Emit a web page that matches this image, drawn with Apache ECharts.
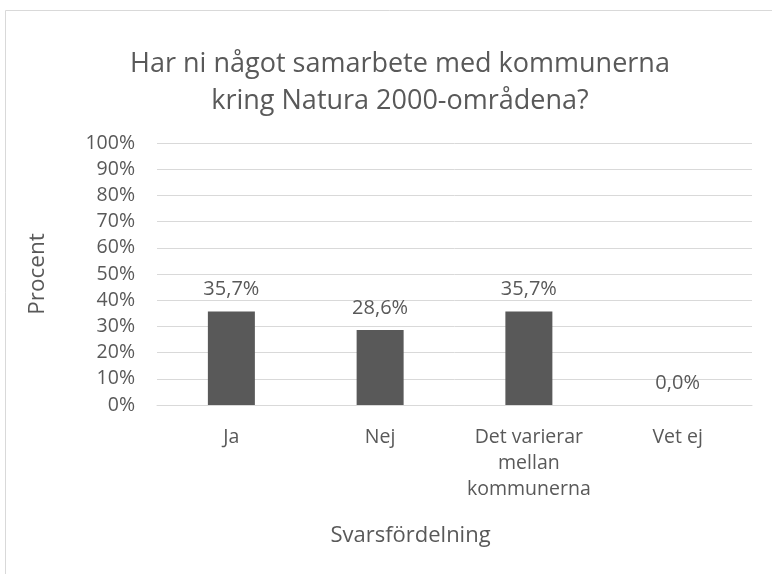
<!DOCTYPE html>
<html>
<head>
<meta charset="utf-8">
<script src="https://cdn.jsdelivr.net/npm/echarts@6/dist/echarts.min.js"></script>
<style>
  html, body { margin: 0; padding: 0; background: #fff; }
  #chart-container { width: 772px; height: 574px; }
</style>
</head>
<body>
<div id="chart-container"></div>
<script>
var categories = ['Ja', 'Nej', 'Det varierar\nmellan\nkommunerna', 'Vet ej'];
var values = [35.7, 28.6, 35.7, 0.0];
var yTicks = [0, 10, 20, 30, 40, 50, 60, 70, 80, 90, 100];

var chartDom = document.getElementById('chart-container');
var myChart = echarts.init(chartDom);
var option;

var textColor = '#595959';
var font = 'Open Sans';

function pct(v) {
  return v.toFixed(1).replace('.', ',') + '%';
}

option = {
  backgroundColor: '#fff',
  textStyle: { fontFamily: font },
  title: {
    text: 'Har ni något samarbete med kommunerna\nkring Natura 2000-områdena?',
    left: 395,
    textAlign: 'center',
    top: 41,
    textStyle: {
      fontFamily: font,
      fontSize: 27,
      fontWeight: 'normal',
      color: textColor,
      lineHeight: 37
    }
  },
  graphic: [{
    type: 'rect',
    shape: { x: 5.5, y: 10.5, width: 800, height: 600 },
    style: { fill: 'none', stroke: '#d9d9d9', lineWidth: 1 },
    silent: true
  }],
  grid: { left: 157, right: 20, top: 143, bottom: 169 },
  xAxis: {
    type: 'category',
    data: categories,
    name: 'Svarsfördelning',
    nameLocation: 'middle',
    nameGap: 120,
    nameTextStyle: {
      fontSize: 22,
      color: textColor,
      fontFamily: font,
      padding: [0, 88, 0, 0]
    },
    axisLine: { lineStyle: { color: '#d9d9d9' } },
    axisTick: { show: false },
    axisLabel: {
      color: textColor,
      fontSize: 19.5,
      lineHeight: 26,
      margin: 19,
      interval: 0,
      fontFamily: font
    }
  },
  yAxis: {
    type: 'value',
    min: 0,
    max: 100,
    interval: 10,
    name: 'Procent',
    nameLocation: 'middle',
    nameGap: 108,
    nameTextStyle: { fontSize: 22.5, color: textColor, fontFamily: font },
    axisLine: { show: false },
    axisTick: { show: false },
    splitLine: { lineStyle: { color: '#d9d9d9' } },
    axisLabel: {
      color: textColor,
      fontSize: 19.5,
      margin: 22,
      fontFamily: font,
      formatter: function (v) {
        return yTicks.indexOf(v) >= 0 ? v + '%' : '';
      }
    }
  },
  series: [{
    type: 'bar',
    data: values,
    barWidth: 47,
    itemStyle: { color: '#595959' },
    label: {
      show: true,
      position: 'top',
      distance: 12,
      color: textColor,
      fontSize: 20,
      fontFamily: font,
      formatter: function (p) { return pct(p.value); }
    }
  }]
};

option && myChart.setOption(option);
</script>
</body>
</html>
